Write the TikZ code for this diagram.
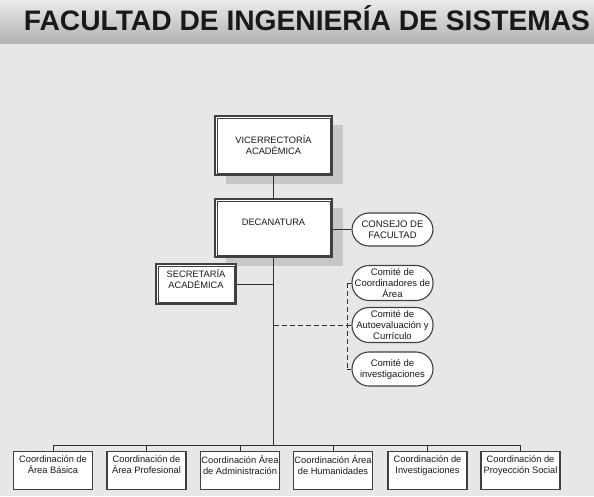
\documentclass[tikz,border=0pt]{standalone}
\usepackage{fontspec}
\setmainfont{Liberation Sans}
\usetikzlibrary{shadows}
\definecolor{bgcol}{HTML}{E7E7E7}
\definecolor{linecol}{HTML}{303030}
\definecolor{bordcol}{HTML}{404040}
\begin{document}
\begin{tikzpicture}[x=1pt,y=-1pt,
  every node/.style={inner sep=0pt, align=center, text=black!90},
  bigbox/.style={draw=bordcol, line width=2pt, fill=white, font=\fontsize{9.3}{11}\selectfont},
  shad/.style={drop shadow={shadow xshift=11pt, shadow yshift=-9pt, fill=black!22, opacity=1}},
  pill/.style={draw=bordcol, line width=1.1pt, fill=white, rounded corners=17pt,
     minimum width=81pt, font=\fontsize{9.5}{11}\selectfont},
  coordbox/.style={draw=bordcol, line width=1.1pt, fill=white, minimum width=79pt,
     minimum height=38pt, font=\fontsize{9.3}{11.5}\selectfont},
  conn/.style={draw=linecol, line width=0.9pt},
  dconn/.style={draw=linecol, line width=0.9pt, dash pattern=on 5pt off 3pt}
]
\useasboundingbox (0,0) rectangle (594,496);
\fill[bgcol] (0,0) rectangle (594,496);
\shade[top color=black!8, bottom color=black!30] (0,0) rectangle (594,43);
\node[font=\bfseries\fontsize{28.2}{30}\selectfont, text=black!90] (title) at (307,18) {FACULTAD DE INGENIERÍA DE SISTEMAS};

% upper boxes
\node[bigbox, shad, minimum width=117pt, minimum height=59pt] (vic) at (273.5,145.5) {VICERRECTORÍA\\ACADÉMICA};
\node[bigbox, shad, minimum width=117pt, minimum height=58pt] (dec) at (273.5,228) {DECANATURA\\~};
\node[bigbox, minimum width=80pt, minimum height=40pt] (sec) at (196,284) {SECRETARÍA\\ACADÉMICA\\~};
\foreach \n in {vic,dec,sec}
  \draw[bordcol, line width=0.8pt] ([xshift=3pt,yshift=-3pt]\n.north west) rectangle ([xshift=-3pt,yshift=3pt]\n.south east);

% rounded
\node[pill, minimum height=33pt] (cons) at (392.5,229.5) {CONSEJO DE\\FACULTAD};
\node[pill, minimum height=35pt] (c1) at (392.5,283) {Comité de\\Coordinadores de\\Área};
\node[pill, minimum height=35pt] (c2) at (392.5,325) {Comité de\\Autoevaluación y\\Currículo};
\node[pill, minimum height=34pt] (c3) at (392.5,369) {Comité de\\investigaciones};

% bottom
\node[coordbox] (b1) at (53,470.5) {Coordinación de\\Área Básica\\~};
\node[coordbox] (b2) at (146.5,470.5) {Coordinación de\\Área Profesional\\~};
\node[coordbox] (b3) at (240,470.5) {Coordinación Área\\de Administración\\~};
\node[coordbox] (b4) at (333,470.5) {Coordinación Área\\de Humanidades\\~};
\node[coordbox] (b5) at (427.5,470.5) {Coordinación de\\Investigaciones\\~};
\node[coordbox] (b6) at (520.5,470.5) {Coordinación de\\Proyección Social\\~};

\coordinate (bus) at (273.5,445);
\coordinate (dj) at (347,326);

\draw[conn] (vic) -- (dec);
\draw[conn] (cons.west) -- (cons.west -| dec.east);
\draw[conn] (dec.south) -- (bus);
\draw[conn] (sec.east) -- (sec.east -| dec.south);
\draw[conn] (b1.north |- bus) -- (b6.north |- bus);
\foreach \i in {1,...,6} \draw[conn] (b\i.north) -- (b\i.north |- bus);

\draw[dconn] (c2.west -| dec.south) -- (c2.west);
\draw[dconn] (c1.west -| dj) -- (c3.west -| dj);
\draw[conn] (c1.west -| dj) -- (c1.west);
\draw[conn] (c3.west -| dj) -- (c3.west);
\end{tikzpicture}
\end{document}
